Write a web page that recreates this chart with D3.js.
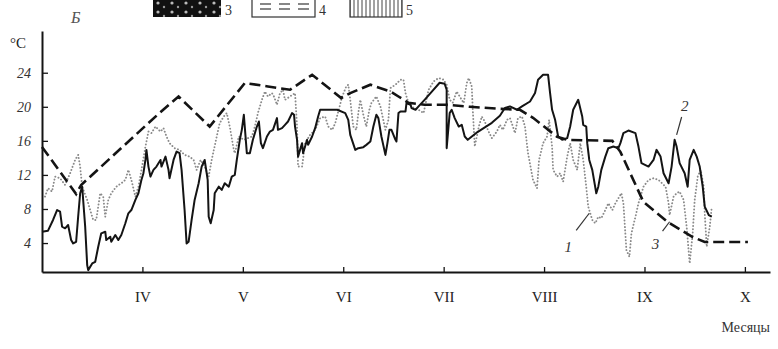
<!DOCTYPE html>
<html><head><meta charset="utf-8">
<script src="https://cdn.jsdelivr.net/npm/d3@7"></script>
<style>body{margin:0;background:#fff}svg{display:block}</style>
</head><body>
<svg id="c" width="778" height="349"></svg>
<script>
// ---- data (x = month number, fractional; y = °C) ----
const monthTicks = [4,5,6,7,8,9,10];
const monthLabels = ["IV","V","VI","VII","VIII","IX","X"];
const tempTicks = [4,8,12,16,20,24];

// curve 1 – solid
const solidMonth = [3.00,3.06,3.11,3.15,3.18,3.20,3.23,3.26,3.29,3.31,3.34,3.36,3.38,3.40,3.41,3.43,3.45,3.46,3.50,3.53,3.56,3.59,3.63,3.64,3.68,3.69,3.73,3.76,3.79,3.83,3.86,3.89,3.93,3.96,3.99,4.01,4.03,4.04,4.06,4.08,4.11,4.14,4.18,4.19,4.23,4.26,4.27,4.31,4.34,4.37,4.39,4.42,4.44,4.46,4.49,4.52,4.56,4.59,4.62,4.65,4.66,4.68,4.71,4.72,4.76,4.79,4.82,4.86,4.89,4.92,4.94,4.97,4.99,5.01,5.04,5.07,5.10,5.14,5.16,5.18,5.20,5.24,5.27,5.30,5.34,5.35,5.39,5.42,5.45,5.49,5.51,5.52,5.54,5.55,5.59,5.60,5.62,5.64,5.65,5.69,5.72,5.75,5.77,5.80,5.94,6.02,6.05,6.07,6.12,6.15,6.20,6.23,6.27,6.30,6.33,6.35,6.38,6.42,6.44,6.46,6.48,6.52,6.53,6.55,6.57,6.62,6.63,6.67,6.68,6.72,6.75,6.81,6.88,6.96,7.01,7.03,7.03,7.06,7.08,7.11,7.15,7.18,7.21,7.24,7.34,7.48,7.56,7.61,7.66,7.73,7.78,7.86,7.91,7.94,7.99,8.04,8.06,8.08,8.11,8.14,8.18,8.23,8.26,8.29,8.34,8.38,8.39,8.42,8.43,8.45,8.48,8.52,8.54,8.57,8.61,8.64,8.69,8.74,8.76,8.79,8.84,8.91,8.94,8.97,9.04,9.09,9.12,9.16,9.19,9.24,9.27,9.30,9.32,9.35,9.40,9.43,9.45,9.49,9.52,9.55,9.58,9.60,9.64,9.67];
const solidTemp = [5.33,5.45,6.71,7.88,7.68,5.92,5.73,6.12,4.35,3.96,4.15,7.09,9.85,10.62,9.06,5.92,1.41,0.82,1.61,1.80,3.56,5.14,5.33,4.35,4.74,4.15,4.94,4.35,4.94,6.32,7.49,7.88,9.06,9.85,11.41,12.20,13.76,14.94,12.98,11.80,12.59,12.98,13.76,12.98,14.15,12.59,11.61,13.76,14.74,14.55,12.59,7.88,3.96,4.15,6.71,9.06,11.02,12.98,13.76,11.41,7.09,6.32,7.88,9.85,10.62,10.24,11.02,10.62,11.80,12.00,13.76,16.12,17.29,19.06,14.55,14.55,16.12,17.68,18.27,15.73,15.14,16.51,17.09,17.29,18.67,17.29,17.49,17.88,18.27,19.26,19.06,17.68,16.12,14.15,15.73,14.55,15.33,16.12,15.53,16.51,17.49,18.86,19.65,19.65,19.65,19.26,18.47,16.71,14.94,15.14,15.26,15.53,15.92,17.68,19.06,18.67,16.51,14.35,15.73,17.29,17.29,16.12,15.92,19.26,19.45,19.45,20.44,20.24,19.85,19.65,20.04,20.82,21.76,22.82,22.71,22.00,15.14,19.26,19.65,18.67,17.68,17.88,16.51,16.12,17.06,18.12,18.94,19.85,20.04,19.65,20.04,20.62,21.61,23.18,23.76,23.76,21.61,19.65,18.47,16.51,16.12,16.32,17.68,19.65,20.82,18.86,17.88,17.68,15.73,13.76,12.59,9.85,10.62,12.59,14.15,15.14,15.33,15.14,15.73,16.91,17.21,16.91,15.33,13.38,12.98,13.76,14.94,14.15,12.20,11.02,12.98,16.12,15.33,13.38,12.20,10.62,13.76,14.94,14.15,12.98,10.62,8.27,7.29,7.09];

// curve 2 – dashed
const dashMonth = [3.00,3.34,3.39,4.15,4.36,4.67,5.02,5.25,5.47,5.69,5.98,6.07,6.27,6.47,6.55,6.65,6.81,7.03,7.26,7.56,7.76,7.89,8.13,8.23,8.68,8.76,8.99,9.23,9.48,9.60,10.03];
const dashTemp  = [15.29,9.76,10.82,19.06,21.21,17.68,22.79,22.39,22.00,23.76,21.02,21.61,22.59,21.80,21.21,20.47,20.24,20.24,20.00,19.76,19.65,18.71,16.47,16.12,16.00,14.71,8.82,6.47,4.71,4.12,4.12];

// curve 3 – dotted
const dotMonth = [3.03,3.06,3.10,3.13,3.18,3.23,3.28,3.33,3.36,3.38,3.40,3.45,3.48,3.51,3.54,3.58,3.61,3.63,3.66,3.69,3.74,3.79,3.83,3.86,3.89,3.93,3.96,3.99,4.03,4.06,4.09,4.13,4.18,4.21,4.24,4.27,4.32,4.37,4.42,4.47,4.51,4.54,4.58,4.62,4.66,4.69,4.74,4.77,4.81,4.84,4.87,4.91,4.92,4.96,5.01,5.09,5.12,5.15,5.19,5.22,5.25,5.29,5.31,5.34,5.37,5.40,5.42,5.52,5.54,5.55,5.59,5.62,5.67,5.72,5.77,5.82,5.85,5.89,5.92,5.99,6.03,6.05,6.07,6.10,6.13,6.15,6.17,6.20,6.23,6.26,6.28,6.33,6.37,6.42,6.45,6.47,6.52,6.57,6.60,6.62,6.65,6.70,6.75,6.80,6.85,6.90,6.95,7.00,7.03,7.06,7.09,7.13,7.16,7.20,7.23,7.25,7.28,7.29,7.31,7.35,7.38,7.41,7.44,7.48,7.53,7.56,7.59,7.63,7.66,7.69,7.71,7.74,7.78,7.81,7.84,7.89,7.93,7.95,7.99,8.03,8.05,8.08,8.09,8.13,8.16,8.19,8.23,8.26,8.29,8.33,8.36,8.39,8.42,8.44,8.48,8.51,8.54,8.57,8.61,8.64,8.68,8.71,8.77,8.79,8.82,8.85,8.87,8.91,8.94,8.99,9.04,9.09,9.14,9.21,9.24,9.25,9.29,9.32,9.35,9.39,9.42,9.45,9.48,9.50,9.53,9.56,9.59,9.60,9.62,9.65,9.67];
const dotTemp = [9.45,10.44,10.04,11.80,11.61,10.82,12.20,13.76,14.35,12.98,10.62,9.06,7.88,6.71,6.71,9.85,9.45,7.09,9.06,9.85,10.62,11.02,11.41,12.59,11.41,9.45,10.62,12.59,15.33,17.09,16.91,17.68,17.09,17.49,16.51,15.73,15.14,14.94,14.35,14.15,13.76,12.59,13.76,12.98,11.80,13.76,16.51,18.08,18.86,19.26,17.68,14.94,14.55,16.51,16.12,16.51,17.68,19.26,20.82,21.80,21.21,21.61,21.21,20.24,21.61,22.00,20.82,21.61,17.68,12.98,12.98,15.73,16.71,17.29,18.67,18.86,17.68,17.29,18.08,21.21,22.39,22.59,20.82,17.68,17.29,19.26,20.82,19.06,17.68,19.65,20.44,21.21,20.04,17.29,18.47,22.20,22.59,23.18,23.18,21.61,20.44,19.88,19.65,19.26,22.00,22.98,23.38,23.18,22.59,20.82,20.47,21.80,21.21,20.44,22.79,23.38,22.39,19.65,15.33,17.68,18.86,18.27,17.29,16.32,17.09,17.88,17.29,18.47,18.67,17.68,16.91,18.67,18.86,17.68,14.55,11.41,10.44,13.76,15.73,16.51,18.47,15.33,12.59,11.80,12.20,11.21,14.15,15.73,13.76,12.59,15.73,13.76,10.62,8.27,6.71,6.32,7.09,6.91,7.88,8.67,7.88,8.67,9.85,8.67,3.18,2.39,5.14,7.09,8.67,10.62,11.41,11.61,11.41,10.62,8.67,7.29,9.45,9.85,10.04,9.06,5.92,1.61,5.14,9.06,11.80,12.59,10.62,7.49,3.56,5.92,8.27];

// curve labels with leader lines
const curveLabels = ["1","2","3"];
const labelAt = [[8.24,3.6],[9.40,20.1],[9.11,3.9]];
const leaderFrom = [[8.32,5.5],[9.37,18.8],[9.18,5.4]];
const leaderTo = [[8.45,7.5],[9.32,16.7],[9.25,6.5]];

const legendLabels = ["3","4","5"];

// ---- drawing ----
const svg = d3.select("#c");
const x = d3.scaleLinear().domain([3, 10.25]).range([42, 770]);
const y = d3.scaleLinear().domain([0.6, 28.9]).range([272, 31]);

const ink = "#141414";

// axes
const xAxis = d3.axisBottom(x).tickValues(monthTicks)
  .tickFormat((d,i)=>monthLabels[i]).tickSizeInner(-5).tickSizeOuter(0).tickPadding(19);
const gx = svg.append("g").attr("transform","translate(0,272)").call(xAxis);
gx.select(".domain").attr("stroke",ink).attr("stroke-width",2);
gx.selectAll(".tick line").attr("stroke",ink).attr("stroke-width",1.3);
gx.selectAll("text").attr("font-family","'Liberation Serif', serif").attr("font-size",15).attr("fill","#222");

const yAxis = d3.axisLeft(y).tickValues(tempTicks).tickSizeInner(-6).tickSizeOuter(0).tickPadding(11);
const gy = svg.append("g").attr("transform","translate(42,0)").call(yAxis);
gy.select(".domain").attr("stroke",ink).attr("stroke-width",2);
gy.selectAll(".tick line").attr("stroke",ink).attr("stroke-width",1.3);
gy.selectAll("text").attr("font-family","'Liberation Serif', serif").attr("font-style","italic")
  .attr("font-size",14).attr("fill","#333");

svg.append("text").attr("x",10).attr("y",48).text("°C")
  .attr("font-family","'Liberation Serif', serif").attr("font-size",15).attr("fill","#222");
svg.append("text").attr("x",770).attr("y",332).attr("text-anchor","end").text("Месяцы")
  .attr("font-family","'Liberation Serif', serif").attr("font-size",14).attr("fill","#333");
svg.append("text").attr("x",71).attr("y",23).text("Б")
  .attr("font-family","'Liberation Serif', serif").attr("font-style","italic").attr("font-size",16).attr("fill","#555");

// legend (cut off at top)
const defs = svg.append("defs");
const hp = defs.append("pattern").attr("id","hatch").attr("width",4).attr("height",20).attr("patternUnits","userSpaceOnUse");
hp.append("line").attr("x1",2).attr("x2",2).attr("y1",0).attr("y2",20).attr("stroke","#444").attr("stroke-width",1);
const np = defs.append("pattern").attr("id","noise").attr("width",14).attr("height",9).attr("patternUnits","userSpaceOnUse");
np.append("rect").attr("width",14).attr("height",9).attr("fill","#111");
np.append("circle").attr("cx",4).attr("cy",3).attr("r",1.6).attr("fill","#bbb");
np.append("circle").attr("cx",10).attr("cy",7).attr("r",1.2).attr("fill","#999");

const legX = [153,252,350];
const legW = [68,63,52];
const legFill = ["url(#noise)","#fff","url(#hatch)"];
legX.forEach((lx,i)=>{
  svg.append("rect").attr("x",lx).attr("y",-4).attr("width",legW[i]).attr("height",21)
    .attr("fill",legFill[i]).attr("stroke",i===0?"none":"#333").attr("stroke-width",1.2);
  svg.append("text").attr("x",lx+legW[i]+4).attr("y",15).text(legendLabels[i])
    .attr("font-family","'Liberation Serif', serif").attr("font-size",14).attr("fill","#333");
});
[0,1,2].forEach(k=>{
  [4,9].forEach(yy=>{
    svg.append("line").attr("x1",260+k*19).attr("x2",271+k*19).attr("y1",yy).attr("y2",yy)
      .attr("stroke","#444").attr("stroke-width",1.3);
  });
});

// lines
const line = d3.line().x(d=>x(d[0])).y(d=>y(d[1])).curve(d3.curveLinear);
const dotData = dotMonth.map((m,i)=>[m,dotTemp[i]]);
const solidData = solidMonth.map((m,i)=>[m,solidTemp[i]]);
const dashData = dashMonth.map((m,i)=>[m,dashTemp[i]]);

svg.append("path").datum(dotData).attr("d",line).attr("fill","none")
  .attr("stroke","#8a8a8a").attr("stroke-width",1.9).attr("stroke-dasharray","0.1,3.2")
  .attr("stroke-linecap","round").attr("stroke-linejoin","round");
svg.append("path").datum(solidData).attr("d",line).attr("fill","none")
  .attr("stroke",ink).attr("stroke-width",2).attr("stroke-linejoin","round");
svg.append("path").datum(dashData).attr("d",line).attr("fill","none")
  .attr("stroke",ink).attr("stroke-width",2.6).attr("stroke-dasharray","11,5");

// curve labels
curveLabels.forEach((t,i)=>{
  svg.append("line").attr("x1",x(leaderFrom[i][0])).attr("y1",y(leaderFrom[i][1]))
    .attr("x2",x(leaderTo[i][0])).attr("y2",y(leaderTo[i][1])).attr("stroke","#333").attr("stroke-width",1.2);
  svg.append("text").attr("x",x(labelAt[i][0])).attr("y",y(labelAt[i][1])).attr("dy","0.35em")
    .attr("text-anchor","middle").text(t)
    .attr("font-family","'Liberation Serif', serif").attr("font-style","italic").attr("font-size",15).attr("fill","#333");
});
</script>
</body></html>
